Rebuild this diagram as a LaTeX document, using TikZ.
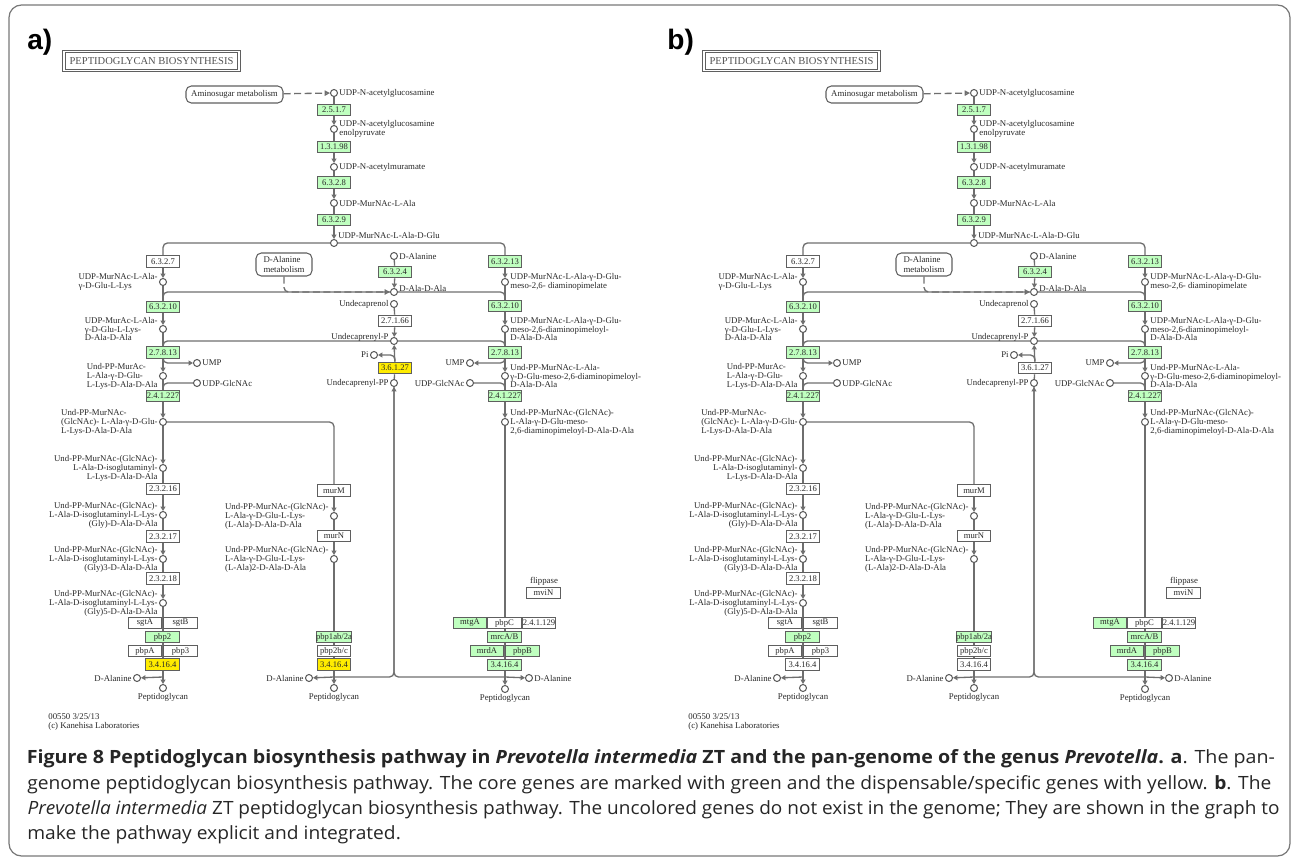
\documentclass[tikz,border=0pt]{standalone}
\usepackage{fontspec}
\setmainfont{Liberation Serif}
\newfontfamily\capfont[FakeStretch=1.05]{Open Sans}
\newfontfamily\panelfont{Liberation Sans}
\usetikzlibrary{arrows.meta}

\definecolor{keggline}{RGB}{110,110,110}
\definecolor{keggbox}{RGB}{95,95,95}
\definecolor{keggtext}{RGB}{40,40,40}
\definecolor{coregreen}{RGB}{191,255,191}
\definecolor{specyellow}{RGB}{255,236,0}
\definecolor{framegray}{RGB}{120,120,120}

\pgfdeclarelayer{bg}
\pgfsetlayers{bg,main}

\tikzset{
  enz/.style={draw=keggbox,line width=0.6pt,fill=white,minimum width=0.67cm,minimum height=0.23cm,inner sep=0pt,font=\fontsize{4.9}{5}\selectfont,text=keggtext},
  enzg/.style={enz,fill=coregreen},
  cpd/.style={circle,draw=keggbox,fill=white,line width=0.6pt,minimum size=0.14cm,inner sep=0pt},
  lab/.style={font=\fontsize{5}{5.1}\selectfont,text=keggtext,inner sep=0.6pt,align=left},
  labr/.style={lab,align=right},
  flow/.style={draw=keggline,line width=0.75pt,rounded corners=0.09cm},
  rxn/.style={flow,-{Triangle[length=2.5pt,width=2.8pt]}},
  link/.style={flow,dash pattern=on 4pt off 2pt,-{Triangle[open,length=3pt,width=3pt]}},
  mapbox/.style={draw=keggbox,line width=0.6pt,rounded corners=3pt,inner sep=1pt,font=\fontsize{5}{5.2}\selectfont,text=keggtext,align=left},
  capline/.style={anchor=base west,inner sep=0pt,font=\capfont\fontsize{10.4}{12}\selectfont,text=black!85},
}

\begin{document}
\begin{tikzpicture}[x=0.02cm,y=-0.02cm]
\useasboundingbox (0,0) rectangle (1295,858);
\draw[framegray,line width=0.7pt,rounded corners=0.25cm] (9,5) rectangle (1290,856);

\foreach \dx/\pl/\varcol in {0/a/specyellow,640/b/white}{
\begin{scope}[shift={(\dx,0)},name prefix=\pl-]
\node[font=\panelfont\bfseries\fontsize{16}{16}\selectfont,anchor=west,inner sep=0pt] (panel) at (27,42) {\pl)};
\node[draw=keggbox,double,double distance=0.7pt,line width=0.6pt,minimum width=3.5cm,minimum height=0.38cm,inner sep=0pt,font=\fontsize{6}{6}\selectfont,text=keggtext!80] (title) at (151.5,61) {PEPTIDOGLYCAN BIOSYNTHESIS};

% trunk
\node[mapbox,minimum width=1.94cm,minimum height=0.34cm,align=center] (amino) at (234.5,94.5) {Aminosugar metabolism};
\node[cpd,label={[lab]right:{UDP-N-acetylglucosamine}}] (udpglcnac) at (334,93) {};
\node[enzg] (e2517) at (334,110) {2.5.1.7};
\node[cpd,label={[lab]right:{UDP-N-acetylglucosamine\\enolpyruvate}}] (udpglcnacep) at (334,129) {};
\node[enzg] (e13198) at (334,147) {1.3.1.98};
\node[cpd,label={[lab]right:{UDP-N-acetylmuramate}}] (udpmur) at (334,167) {};
\node[enzg] (e6328) at (334,182.5) {6.3.2.8};
\node[cpd,label={[lab]right:{UDP-MurNAc-L-Ala}}] (murala) at (334,203) {};
\node[enzg] (e6329) at (334,220) {6.3.2.9};
\node[cpd,label={[lab]above right:{UDP-MurNAc-L-Ala-D-Glu}}] (muralaglu) at (334,243) {};

% Lys branch
\node[enz] (l6327) at (163,261.5) {6.3.2.7};
\node[cpd,label={[lab]left:{UDP-MurNAc-L-Ala-\\γ-D-Glu-L-Lys}}] (llys) at (163,282) {};
\node[enzg] (l63210) at (163,307) {6.3.2.10};
\node[cpd,label={[lab]left:{UDP-MurAc-L-Ala-\\γ-D-Glu-L-Lys-\\D-Ala-D-Ala}}] (llysaa) at (163,329) {};
\node[enzg] (l27813) at (163,352.5) {2.7.8.13};
\node[cpd,label={[lab]right:{UMP}}] (lump) at (197,363) {};
\node[cpd,label={[lab]left:{Und-PP-MurAc-\\L-Ala-γ-D-Glu-\\L-Lys-D-Ala-D-Ala}}] (llipi) at (163,376) {};
\node[cpd,label={[lab]right:{UDP-GlcNAc}}] (ludpglcnac) at (197,383) {};
\node[enzg] (l241227) at (163,396) {2.4.1.227};
\node[cpd,label={[lab]left:{Und-PP-MurNAc-\\(GlcNAc)- L-Ala-γ-D-Glu-\\L-Lys-D-Ala-D-Ala}}] (llipii) at (163,422) {};
\node[cpd,label={[labr]left:{Und-PP-MurNAc-(GlcNAc)-\\L-Ala-D-isoglutaminyl-\\L-Lys-D-Ala-D-Ala}}] (liso) at (163,468) {};
\node[enz] (l23216) at (163,489) {2.3.2.16};
\node[cpd,label={[labr]left:{Und-PP-MurNAc-(GlcNAc)-\\L-Ala-D-isoglutaminyl-L-Lys-\\(Gly)-D-Ala-D-Ala}}] (lgly1) at (163,515) {};
\node[enz] (l23217) at (163,536.5) {2.3.2.17};
\node[cpd,label={[labr]left:{Und-PP-MurNAc-(GlcNAc)-\\L-Ala-D-isoglutaminyl-L-Lys-\\(Gly)3-D-Ala-D-Ala}}] (lgly3) at (163,559) {};
\node[enz] (l23218) at (163,578.5) {2.3.2.18};
\node[cpd,label={[labr]left:{Und-PP-MurNAc-(GlcNAc)-\\L-Ala-D-isoglutaminyl-L-Lys-\\(Gly)5-D-Ala-D-Ala}}] (lgly5) at (163,603) {};
\node[enz] (lsgta) at (145,623) {sgtA};
\node[enz] (lsgtb) at (180.5,623) {sgtB};
\node[enzg] (lpbp2) at (162.5,637) {pbp2};
\node[enz] (lpbpa) at (145,651) {pbpA};
\node[enz] (lpbp3) at (180.5,651) {pbp3};
\node[enz,fill=\varcol] (l341164) at (162.5,664.5) {3.4.16.4};
\coordinate (ljoin) at (163,677);
\node[cpd,label={[lab]left:{D-Alanine}}] (ldala) at (137,678) {};
\node[cpd,label={[lab]below:{Peptidoglycan}}] (lpg) at (163,688) {};
\node[lab,anchor=north west] (stamp) at (47,712) {00550 3/25/13\\(c) Kanehisa Laboratories};

% amidated branch
\node[enz] (mmurm) at (334,490.5) {murM};
\node[cpd,label={[lab]left:{Und-PP-MurNAc-(GlcNAc)-\\L-Ala-γ-D-Glu-L-Lys-\\(L-Ala)-D-Ala-D-Ala}}] (mala1) at (334,516) {};
\node[enz] (mmurn) at (334,536) {murN};
\node[cpd,label={[lab]left:{Und-PP-MurNAc-(GlcNAc)-\\L-Ala-γ-D-Glu-L-Lys-\\(L-Ala)2-D-Ala-D-Ala}}] (mala2) at (334,559) {};
\node[enzg] (mpbp1) at (334,637) {pbp1ab/2a};
\node[enz] (mpbp2) at (334,651) {pbp2b/c};
\node[enz,fill=\varcol] (m341164) at (334,664.5) {3.4.16.4};
\coordinate (mjoin) at (334,677);
\node[cpd,label={[lab]left:{D-Alanine}}] (mdala) at (309,678) {};
\node[cpd,label={[lab]below:{Peptidoglycan}}] (mpg) at (334,688) {};

% D-Ala and carrier lipid
\node[mapbox,minimum width=1.12cm,minimum height=0.46cm] (dalameta) at (284,264.5) {D-Alanine\\metabolism};
\node[cpd,label={[lab]right:{D-Alanine}}] (dala) at (394,256) {};
\node[enzg] (d6324) at (395,272) {6.3.2.4};
\node[cpd,label={[lab,yshift=2pt]right:{D-Ala-D-Ala}}] (daladala) at (394,292) {};
\node[cpd,label={[lab]left:{Undecaprenol}}] (undol) at (394,304) {};
\node[enz] (d27166) at (395,321) {2.7.1.66};
\node[cpd,label={[lab,yshift=2pt]left:{Undecaprenyl-P}}] (undp) at (394,341) {};
\node[cpd,label={[lab]left:{Pi}}] (pi) at (374,355) {};
\node[enz,fill=\varcol] (d36127) at (395,368) {3.6.1.27};
\node[cpd,label={[lab]left:{Undecaprenyl-PP}}] (undpp) at (394,383) {};

% DAP branch
\node[enzg] (r63213) at (505,261.5) {6.3.2.13};
\node[cpd,label={[lab]right:{UDP-MurNAc-L-Ala-γ-D-Glu-\\meso-2,6- diaminopimelate}}] (rdap) at (505,282) {};
\node[enzg] (r63210) at (505,306) {6.3.2.10};
\node[cpd,label={[lab]right:{UDP-MurNAc-L-Ala-γ-D-Glu-\\meso-2,6-diaminopimeloyl-\\D-Ala-D-Ala}}] (rdapaa) at (505,329) {};
\node[enzg] (r27813) at (505,352.5) {2.7.8.13};
\node[cpd,label={[lab]left:{UMP}}] (rump) at (470,363) {};
\node[cpd,label={[lab]right:{Und-PP-MurNAc-L-Ala-\\γ-D-Glu-meso-2,6-diaminopimeloyl-\\D-Ala-D-Ala}}] (rlipi) at (505,376) {};
\node[cpd,label={[lab]left:{UDP-GlcNAc}}] (rudpglcnac) at (470,383) {};
\node[enzg] (r241227) at (505,396) {2.4.1.227};
\node[cpd,label={[lab]right:{Und-PP-MurNAc-(GlcNAc)-\\L-Ala-γ-D-Glu-meso-\\2,6-diaminopimeloyl-D-Ala-D-Ala}}] (rlipii) at (505,422) {};
\node[lab] (flippase) at (544,581) {flippase};
\node[enz] (rmvin) at (543.5,593) {mviN};
\node[enzg] (rmtga) at (470,623) {mtgA};
\node[enz] (rpbpc) at (504.5,623) {pbpC};
\node[enz] (r241129) at (539,623) {2.4.1.129};
\node[enzg] (rmrca) at (504.5,637) {mrcA/B};
\node[enzg] (rmrda) at (487,651) {mrdA};
\node[enzg] (rpbpb) at (522.5,651) {pbpB};
\node[enzg] (r341164) at (504.5,665) {3.4.16.4};
\coordinate (rjoin) at (505,677);
\node[cpd,label={[lab]right:{D-Alanine}}] (rdala) at (529,678) {};
\node[cpd,label={[lab]below:{Peptidoglycan}}] (rpg) at (505,689) {};

\begin{pgfonlayer}{bg}
\draw[link] (amino) -- (udpglcnac);
\draw[flow] (udpglcnac) -- (e2517);
\draw[rxn] (e2517) -- (udpglcnacep);
\draw[flow] (udpglcnacep) -- (e13198);
\draw[rxn] (e13198) -- (udpmur);
\draw[flow] (udpmur) -- (e6328);
\draw[rxn] (e6328) -- (murala);
\draw[flow] (murala) -- (e6329);
\draw[rxn] (e6329) -- (muralaglu);
\draw[flow] (muralaglu) -| (l6327);
\draw[flow] (muralaglu) -| (r63213);
% Lys branch
\draw[rxn] (l6327) -- (llys);
\draw[flow] (llys) -- (l63210);
\draw[rxn] (l63210) -- (llysaa);
\draw[flow] (llysaa) -- (l27813);
\draw[rxn] (l27813.south) |- (lump);
\draw[rxn] (l27813) -- (llipi);
\draw[flow] (ludpglcnac) -| (l241227);
\draw[flow] (llipi) -- (l241227);
\draw[rxn] (l241227) -- (llipii);
\draw[rxn] (llipii) -- (liso);
\draw[flow] (liso) -- (l23216);
\draw[rxn] (l23216) -- (lgly1);
\draw[flow] (lgly1) -- (l23217);
\draw[rxn] (l23217) -- (lgly3);
\draw[flow] (lgly3) -- (l23218);
\draw[rxn] (l23218) -- (lgly5);
\draw[flow] (lgly5) -- (ljoin);
\draw[rxn] (ljoin) -- (ldala);
\draw[rxn] (ljoin) -- (lpg);
% amidated branch
\draw[flow] (llipii) -| (mmurm);
\draw[rxn] (mmurm) -- (mala1);
\draw[flow] (mala1) -- (mmurn);
\draw[rxn] (mmurn) -- (mala2);
\draw[flow] (mala2) -- (mjoin);
\draw[rxn] (mjoin) -- (mdala);
\draw[rxn] (mjoin) -- (mpg);
% D-Ala and carrier lipid
\draw[link] (dalameta) |- (daladala);
\draw[flow] (dala) -- (d6324);
\draw[rxn] (d6324) -- (daladala);
\draw[flow] (daladala) -| (l63210);
\draw[flow] (daladala) -| (r63210);
\draw[flow] (undol) -- (d27166);
\draw[rxn] (d27166) -- (undp);
\draw[flow] (undp) -| (l27813);
\draw[flow] (undp) -| (r27813);
\draw[flow] (undpp) -- (d36127);
\draw[rxn] (d36127) -- (undp);
\draw[rxn] (d36127.north) |- (pi);
\draw[flow] (mjoin) -| (undpp);
\draw[rxn] (rjoin) -| (undpp);
% DAP branch
\draw[rxn] (r63213) -- (rdap);
\draw[flow] (rdap) -- (r63210);
\draw[rxn] (r63210) -- (rdapaa);
\draw[flow] (rdapaa) -- (r27813);
\draw[rxn] (r27813.south) |- (rump);
\draw[rxn] (r27813) -- (rlipi);
\draw[flow] (rudpglcnac) -| (r241227);
\draw[flow] (rlipi) -- (r241227);
\draw[rxn] (r241227) -- (rlipii);
\draw[flow] (rlipii) -- (rjoin);
\draw[rxn] (rjoin) -- (rdala);
\draw[rxn] (rjoin) -- (rpg);
\end{pgfonlayer}
\end{scope}
}

% caption
\node[capline,xscale=1.024,transform shape] (cap1) at (26.4,763) {\textbf{Figure 8 Peptidoglycan biosynthesis pathway in \textit{Prevotella intermedia} ZT and the pan-genome of the genus \textit{Prevotella}. a}. The pan-};
\node[capline] (cap2) at (27,789) {genome peptidoglycan biosynthesis pathway. The core genes are marked with green and the dispensable/specific genes with yellow. \textbf{b}. The};
\node[capline,xscale=0.99,transform shape] (cap3) at (27.3,814) {\textit{Prevotella intermedia} ZT peptidoglycan biosynthesis pathway. The uncolored genes do not exist in the genome; They are shown in the graph to};
\node[capline] (cap4) at (27,839) {make the pathway explicit and integrated.};
\end{tikzpicture}
\end{document}
